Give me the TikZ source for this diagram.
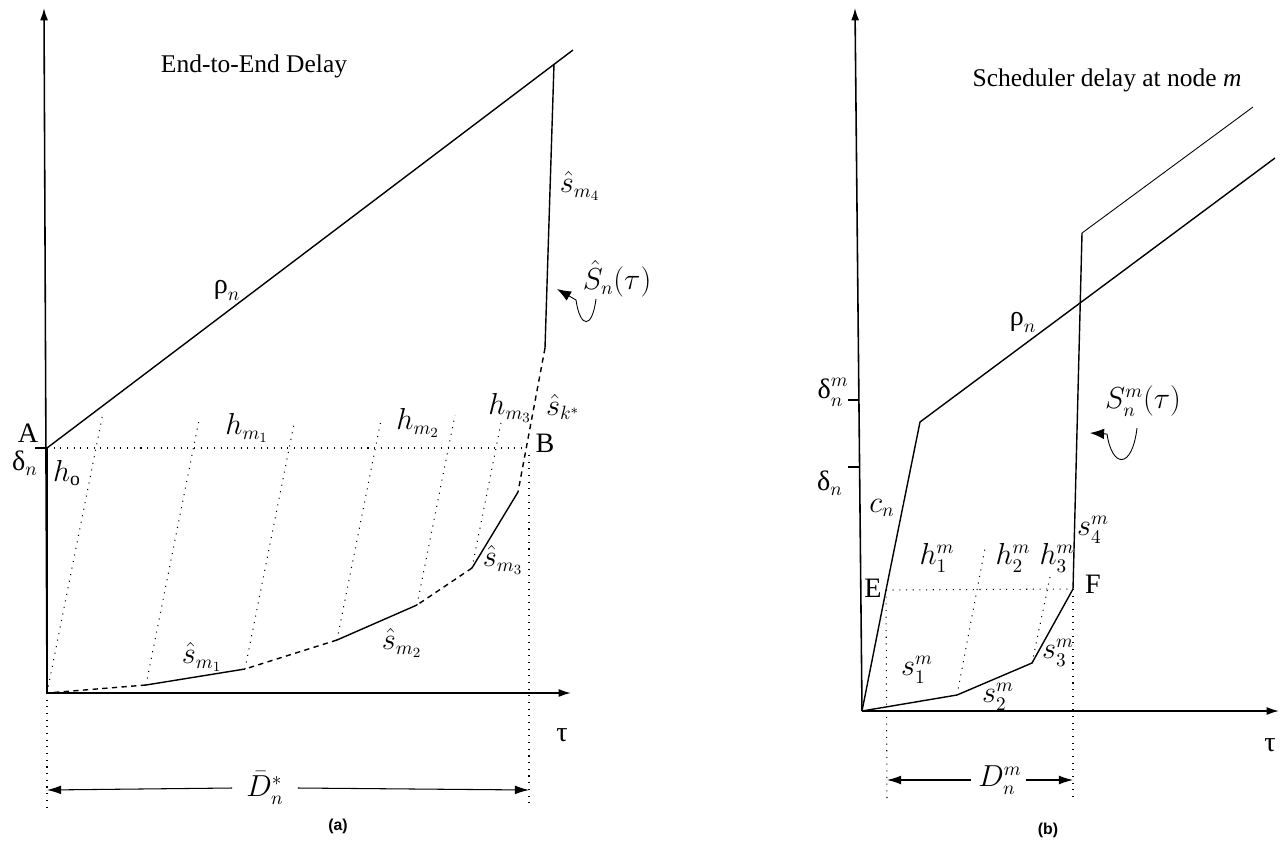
\documentclass[tikz,border=0pt]{standalone}
\usepackage{amsmath}
\usepackage{fontspec}
\setmainfont{Liberation Serif}
\newfontfamily\capfont{Liberation Sans}
\usetikzlibrary{arrows.meta}
\newcommand{\up}[1]{\text{#1}}

\begin{document}
\begin{tikzpicture}[x=0.02cm, y=-0.02cm,
 lbl/.style={inner sep=0pt, font=\fontsize{16}{19}\selectfont},
 ttl/.style={inner sep=0pt, font=\fontsize{14.5}{17}\selectfont},
 subcap/.style={inner sep=0pt, font=\capfont\bfseries\fontsize{9}{11}\selectfont},
 axis/.style={line width=0.9pt, -{Latex[length=7pt,width=4.5pt]}},
 crv/.style={line width=0.8pt},
 dsh/.style={line width=0.8pt, dash pattern=on 3pt off 2.5pt},
 dotln/.style={line width=0.6pt, dash pattern=on 0.6pt off 3.2pt},
 dim/.style={line width=0.6pt, -{Latex[length=8pt,width=5pt]}},
 curl/.style={line width=0.5pt, -{Latex[length=8pt,width=6pt]}}]
\useasboundingbox (0,0) rectangle (1283,848);
% (a) end-to-end delay
\coordinate (o1) at (47,693); \coordinate (y1) at (44,8); \coordinate (x1) at (571,693);
\coordinate (a) at (47,448); \coordinate (b) at (526,448); \coordinate (r1) at (573,50);
\coordinate (p4) at (554,64); \coordinate (p3) at (545,348); \coordinate (q3) at (518,492);
\coordinate (p2) at (472,568); \coordinate (q2) at (417,605); \coordinate (p1) at (337,640);
\coordinate (q1) at (245,669); \coordinate (p0) at (146,685);
\coordinate (bt) at (529,455); \coordinate (bb) at (529,808); \coordinate (ob) at (47,808);
\coordinate (dl) at (47,790); \coordinate (dr) at (529,790);
\draw[axis] (o1) -- (y1); \draw[axis] (o1) -- (x1);
\draw[line width=1.2pt] (o1) -- (a); \draw[crv] (35,448) -- (a);
\draw[crv] (a) -- (r1);
\draw[crv] (p4) -- (p3); \draw[dsh] (p3) -- (q3); \draw[crv] (q3) -- (p2); \draw[dsh] (p2) -- (q2);
\draw[crv] (q2) -- (p1); \draw[dsh] (p1) -- (q1); \draw[crv] (q1) -- (p0); \draw[dsh] (p0) -- (o1);
\draw[dotln] (a) -- (b);
\foreach \p/\h in {o1/276, p0/263, q1/246, p1/217, q2/190, p2/145}
  \draw[dotln] (\p) -- ++(0.2*\h,-\h);
\draw[dotln] (bt) -- (bb); \draw[dotln] (o1) -- (ob);
\node[ttl] (t1) at (254,66) {End-to-End Delay};
\node[lbl] (rho1) at (227,290) {$\up{ρ}_n$};
\node[lbl] (sm4) at (580,186) {$\hat{s}_{m_4}$};
\node[lbl] (sh) at (617,279) {$\hat{S}_n(\tau)$};
\draw[curl] (596,299) .. controls (592,330) and (580,328) .. (576,300) -- (557,289);
\node[lbl] (la) at (28,433) {A};
\node[lbl] (ld) at (25,463) {$\up{δ}_n$};
\node[lbl] (ho) at (67,473) {$h_{\mathrm{o}}$};
\node[lbl] (hm1) at (247,428) {$h_{m_1}$};
\node[lbl] (hm2) at (418,423) {$h_{m_2}$};
\node[lbl] (hm3) at (510,408) {$h_{m_3}$};
\node[lbl] (sk) at (563,407) {$\hat{s}_{k^*}$};
\node[lbl] (lb) at (545,443) {B};
\node[lbl] (sm3) at (503,560) {$\hat{s}_{m_3}$};
\node[lbl] (sm2) at (402,643) {$\hat{s}_{m_2}$};
\node[lbl] (sm1) at (202,657) {$\hat{s}_{m_1}$};
\node[lbl] (tau1) at (562,735) {\up{τ}};
\node[lbl] (dbar) at (265,788) {$\bar{D}^{*}_{n}$};
\draw[dim] ([xshift=-8pt]dbar.west) -- (dl); \draw[dim] ([xshift=8pt]dbar.east) -- (dr);
\node[subcap] (ca) at (338,826) {(a)};
% (b) scheduler delay at node m
\coordinate (o2) at (862,711); \coordinate (y2) at (855,8); \coordinate (x2) at (1279,711);
\coordinate (e) at (886,590); \coordinate (k) at (920,422); \coordinate (r2) at (1275,158);
\coordinate (t) at (1082,233); \coordinate (t2) at (1253,107); \coordinate (f) at (1073,589);
\coordinate (u1) at (957,695); \coordinate (u2) at (1032,663);
\coordinate (eb) at (887,802); \coordinate (fb) at (1073,802);
\coordinate (ml) at (887,780); \coordinate (mr) at (1073,780);
\draw[axis] (o2) -- (y2); \draw[axis] (o2) -- (x2);
\draw[crv] (848,400) -- (858,400); \draw[crv] (848,467) -- (859,467);
\draw[crv] (o2) -- (e) -- (k) -- (r2);
\draw[crv] (o2) -- (u1) -- (u2) -- (f) -- (t);
\draw[line width=0.5pt] (t) -- (t2);
\draw[dotln] (e) -- (f); \draw[dotln] (e) -- (eb); \draw[dotln] (f) -- (fb);
\draw[dotln] (u1) -- ++(28,-147); \draw[dotln] (u2) -- ++(18,-86);
\node[ttl] (t3) at (1107,80) {Scheduler delay at node \textit{m}};
\node[lbl] (dnm) at (833,392) {$\up{δ}^m_n$};
\node[lbl] (dn) at (830,483) {$\up{δ}_n$};
\node[lbl] (rho2) at (1023,322) {$\up{ρ}_n$};
\node[lbl] (snm) at (1143,401) {$S^m_n(\tau)$};
\draw[curl] (1137,428) .. controls (1132,470) and (1112,468) .. (1107,434) -- (1090,433);
\node[lbl] (cn) at (882,508) {$c_n$};
\node[lbl] (le) at (873,588) {E};
\node[lbl] (lf) at (1093,584) {F};
\node[lbl] (h1) at (937,558) {$h^m_1$};
\node[lbl] (h2) at (1013,558) {$h^m_2$};
\node[lbl] (h3) at (1057,558) {$h^m_3$};
\node[lbl] (s4) at (1093,530) {$s^m_4$};
\node[lbl] (s3) at (1058,653) {$s^m_3$};
\node[lbl] (s1) at (917,670) {$s^m_1$};
\node[lbl] (s2) at (998,697) {$s^m_2$};
\node[lbl] (tau2) at (1270,745) {\up{τ}};
\node[lbl] (dmn) at (1000,780) {$D^m_n$};
\draw[dim] ([xshift=-4pt]dmn.west) -- (ml); \draw[dim] ([xshift=2pt]dmn.east) -- (mr);
\node[subcap] (cb) at (1048,830) {(b)};
\end{tikzpicture}
\end{document}
